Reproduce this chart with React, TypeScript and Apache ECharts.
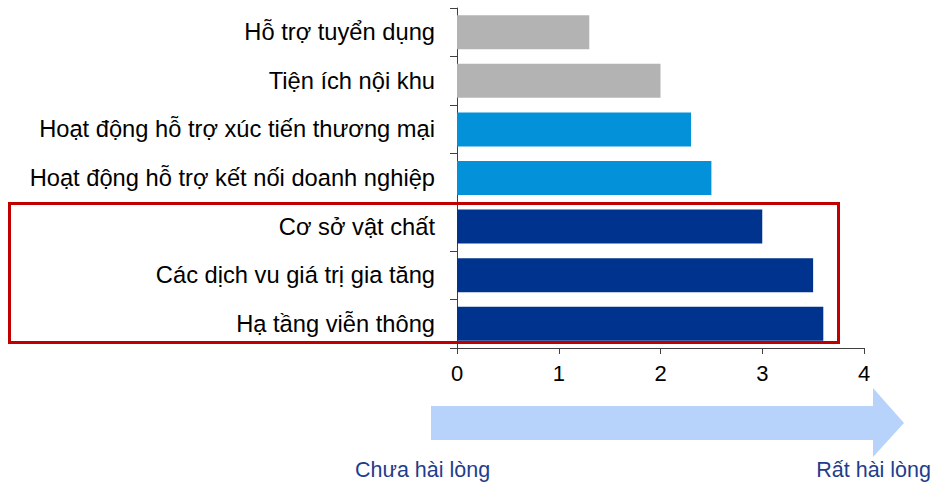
import React, { useEffect, useRef } from "react";
import * as echarts from "echarts";

const categories = [
  "Hỗ trợ tuyển dụng",
  "Tiện ích nội khu",
  "Hoạt động hỗ trợ xúc tiến thương mại",
  "Hoạt động hỗ trợ kết nối doanh nghiệp",
  "Cơ sở vật chất",
  "Các dịch vu giá trị gia tăng",
  "Hạ tầng viễn thông",
];
const values = [1.3, 2.0, 2.3, 2.5, 3.0, 3.5, 3.6];
const barColors = ["#b3b3b3", "#b3b3b3", "#0391d9", "#0391d9", "#00338d", "#00338d", "#00338d"];
const xTicks = [0, 1, 2, 3, 4];
const lowLabel = "Chưa hài lòng";
const highLabel = "Rất hài lòng";

const FONT = "'Liberation Sans', Arial, sans-serif";

export default function App() {
  const ref = useRef<HTMLDivElement>(null);
  useEffect(() => {
    if (!ref.current) return;
    const chart = echarts.init(ref.current, null, { renderer: "svg" });
    chart.setOption({
      animation: false,
      backgroundColor: "#ffffff",
      grid: { left: 457, right: 68, top: 8, bottom: 134, containLabel: false },
      xAxis: {
        type: "value",
        min: xTicks[0],
        max: xTicks[xTicks.length - 1],
        interval: 1,
        axisLine: { show: true, lineStyle: { color: "#404040", width: 1 } },
        axisTick: { show: true, length: 6, lineStyle: { color: "#404040" } },
        splitLine: { show: false },
        axisLabel: { color: "#000", fontSize: 22, fontFamily: FONT, margin: 14 },
      },
      yAxis: {
        type: "category",
        inverse: true,
        data: categories,
        axisLine: { show: true, lineStyle: { color: "#404040", width: 1 } },
        axisTick: { show: true, length: 7, alignWithLabel: false, lineStyle: { color: "#404040" } },
        axisLabel: { color: "#000", fontSize: 23.7, fontFamily: FONT, margin: 22 },
      },
      series: [
        {
          type: "bar",
          barCategoryGap: "30%",
          data: values.map((v, i) => ({ value: v, itemStyle: { color: barColors[i] } })),
        },
      ],
      graphic: [
        {
          type: "rect",
          shape: { x: 9.5, y: 203.5, width: 829, height: 139 },
          style: { fill: "none", stroke: "#c00000", lineWidth: 3 },
          z: 100,
        },
        {
          type: "polygon",
          shape: {
            points: [
              [431, 406],
              [873, 406],
              [873, 388],
              [904, 423],
              [873, 457],
              [873, 440],
              [431, 440],
            ],
          },
          style: { fill: "#b7d2fb" },
        },
        {
          type: "text",
          x: 355,
          y: 470,
          style: { text: lowLabel, fill: "#1f3d8c", fontSize: 21.5, fontFamily: FONT, textVerticalAlign: "middle", textAlign: "left" },
        },
        {
          type: "text",
          x: 931,
          y: 470,
          style: { text: highLabel, fill: "#1f3d8c", fontSize: 21.5, fontFamily: FONT, textVerticalAlign: "middle", textAlign: "right" },
        },
      ],
    });
    return () => chart.dispose();
  }, []);
  return <div ref={ref} style={{ width: 932, height: 482, position: "absolute", left: 0, top: 0 }} />;
}
